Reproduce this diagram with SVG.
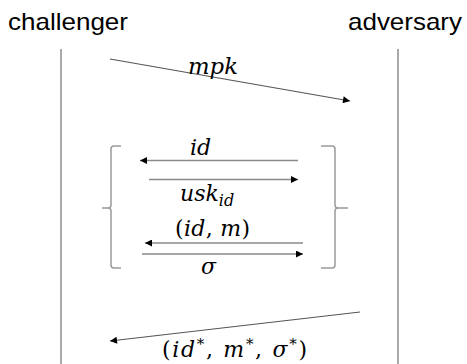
<svg xmlns="http://www.w3.org/2000/svg" width="467" height="364" viewBox="0 0 467 364">
<style>
.title{font-family:"Liberation Sans",Arial,sans-serif;font-size:24px;fill:#000}
.math{font-family:"DejaVu Serif","Liberation Serif",serif;font-size:22px;fill:#000}
.it{font-style:italic}
.life{stroke:#555;stroke-width:1;fill:none}
.msg{stroke:#555;stroke-width:1.2;fill:none}
.inner{stroke:#8a8a8a;stroke-width:1.6;fill:none}
.brace{stroke:#9a9a9a;stroke-width:1.5;fill:none}
</style>
<defs>
<marker id="ah" viewBox="0 0 10 10" refX="10" refY="5" markerWidth="9" markerHeight="7" markerUnits="userSpaceOnUse" orient="auto">
<path d="M0,0 L10,5 L0,10 Z" fill="#000"/>
</marker>
</defs>
<g id="challenger">
<text class="title" x="8" y="30" textLength="120" lengthAdjust="spacingAndGlyphs">challenger</text>
<line class="life" x1="61" y1="49" x2="61" y2="364"/>
</g>
<g id="adversary">
<text class="title" x="348" y="30" textLength="114" lengthAdjust="spacingAndGlyphs">adversary</text>
<line class="life" x1="398" y1="49" x2="398" y2="364"/>
</g>
<g id="query-loop">
<path class="brace" d="M121,146 H114 Q111,146 111,149 V205 Q111,208 108,208 H102 M108,208 Q111,208 111,211 V265 Q111,268 114,268 H121"/>
<path class="brace" d="M321,146 H332 Q335,146 335,149 V205 Q335,208 338,208 H348 M338,208 Q335,208 335,211 V265 Q335,268 332,268 H321"/>
</g>
<g id="connectors">
<line class="msg" x1="110" y1="59" x2="350" y2="101" marker-end="url(#ah)"/>
<line class="inner" x1="298" y1="160.5" x2="140" y2="160.5" marker-end="url(#ah)"/>
<line class="inner" x1="149" y1="179.5" x2="298" y2="179.5" marker-end="url(#ah)"/>
<line class="inner" x1="303" y1="243" x2="145" y2="243" marker-end="url(#ah)"/>
<line class="inner" x1="142" y1="254" x2="303" y2="254" marker-end="url(#ah)"/>
<line class="msg" x1="360" y1="312" x2="110" y2="341" marker-end="url(#ah)"/>
</g>
<g id="labels">
<text class="math it" x="188" y="74" textLength="50" lengthAdjust="spacingAndGlyphs">mpk</text>
<text class="math it" x="190" y="155">id</text>
<text class="math it" x="180" y="201">usk<tspan font-size="16" dy="5">id</tspan></text>
<text class="math" x="175" y="236" textLength="75" lengthAdjust="spacing">(<tspan class="it">id</tspan>, <tspan class="it">m</tspan>)</text>
<text class="math it" x="201" y="274">σ</text>
<text class="math" x="162" y="357" font-size="23" textLength="145" lengthAdjust="spacing">(<tspan class="it">id</tspan><tspan font-size="15" dy="-8">*</tspan><tspan dy="8">, </tspan><tspan class="it">m</tspan><tspan font-size="15" dy="-8">*</tspan><tspan dy="8">, </tspan><tspan class="it">σ</tspan><tspan font-size="15" dy="-8">*</tspan><tspan dy="8">)</tspan></text>
</g>
</svg>
